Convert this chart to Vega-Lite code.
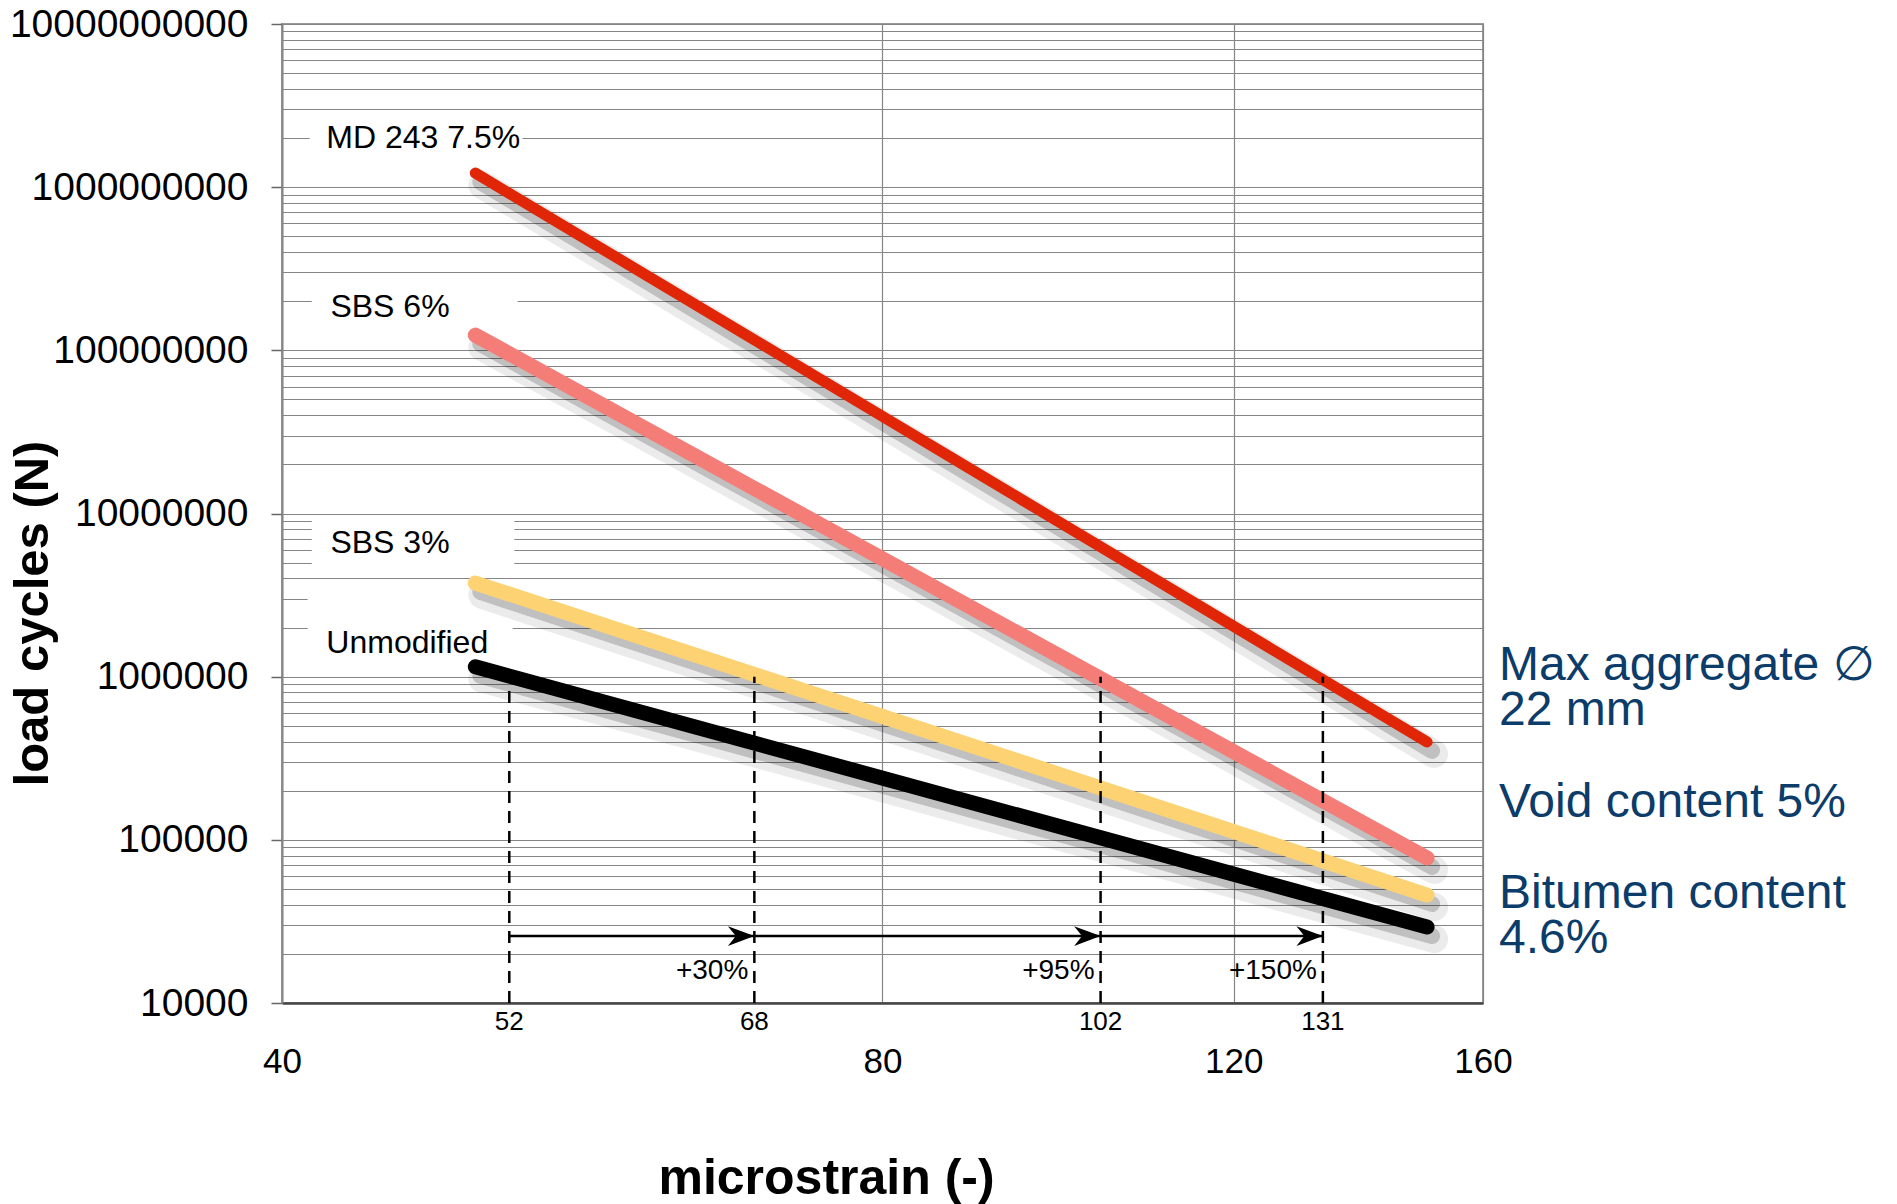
{
  "$schema": "https://vega.github.io/schema/vega-lite/v6.json",
  "width": 1201,
  "height": 979,
  "autosize": "none",
  "padding": {"left": 282, "top": 24, "right": 414, "bottom": 201},
  "background": "white",
  "config": {
    "font": "Liberation Sans",
    "view": {"stroke": "#999999", "strokeWidth": 2},
    "axis": {"labelFont": "Liberation Sans", "titleFont": "Liberation Sans", "labelColor": "#000000", "titleColor": "#000000"}
  },
  "datasets": {
    "curves": [
      {"s": "MD 243 7.5%", "x": 50, "y": 1220000000},
      {"s": "MD 243 7.5%", "x": 150, "y": 398000},
      {"s": "SBS 6%", "x": 50, "y": 124000000},
      {"s": "SBS 6%", "x": 150, "y": 77400},
      {"s": "SBS 3%", "x": 50, "y": 3750000},
      {"s": "SBS 3%", "x": 150, "y": 45900},
      {"s": "Unmodified", "x": 50, "y": 1150000},
      {"s": "Unmodified", "x": 150, "y": 29200}
    ],
    "boxes": [
      {"x": 41.3, "xe": 52.8, "y": 1550000000, "ye": 2580000000},
      {"x": 41.4, "xe": 52.5, "y": 143000000, "ye": 241000000},
      {"x": 41.4, "xe": 52.3, "y": 4830000, "ye": 9520000},
      {"x": 41.2, "xe": 52.2, "y": 1250000, "ye": 3490000}
    ],
    "names": [
      {"x": 42.1, "y": 2000000000, "t": "MD 243 7.5%"},
      {"x": 42.3, "y": 184000000, "t": "SBS 6%"},
      {"x": 42.3, "y": 6550000, "t": "SBS 3%"},
      {"x": 42.1, "y": 1600000, "t": "Unmodified"}
    ],
    "strains": [
      {"x": 52.0, "y": 10000, "ye": 1000000, "t": "52"},
      {"x": 69.0, "y": 10000, "ye": 1000000, "t": "68"},
      {"x": 102.9, "y": 10000, "ye": 1000000, "t": "102"},
      {"x": 133.0, "y": 10000, "ye": 1000000, "t": "131"}
    ],
    "arrow": [
      {"x": 52.0, "xe": 133.0, "y": 25700}
    ],
    "heads": [
      {"x": 69.0, "y": 25700},
      {"x": 102.9, "y": 25700},
      {"x": 133.0, "y": 25700}
    ],
    "gains": [
      {"x": 69.0, "y": 15700, "t": "+30%"},
      {"x": 102.9, "y": 15700, "t": "+95%"},
      {"x": 133.0, "y": 15700, "t": "+150%"}
    ],
    "notes": [
      {"x": 160, "y": 954000, "t": "Max aggregate ∅\n22 mm"},
      {"x": 160, "y": 138000, "t": "Void content 5%"},
      {"x": 160, "y": 38200, "t": "Bitumen content\n4.6%"}
    ]
  },
  "encoding": {
    "x": {
      "field": "x",
      "type": "quantitative",
      "scale": {"type": "log", "domain": [40, 160], "nice": false, "zero": false},
      "axis": {
        "values": [40, 80, 120, 160],
        "format": "d",
        "labelFontSize": 35,
        "labelPadding": 41,
        "labelOverlap": false,
        "labelFlush": false,
        "labelBound": false,
        "ticks": false,
        "grid": true,
        "gridColor": "#858585",
        "gridWidth": 1.2,
        "domainColor": "#444444",
        "domainWidth": 2.5,
        "title": "microstrain (-)",
        "titleFontSize": 50,
        "titleFontWeight": "bold",
        "titleX": 544,
        "titleY": 175,
        "titleAlign": "center",
        "titleBaseline": "middle"
      }
    },
    "y": {
      "field": "y",
      "type": "quantitative",
      "scale": {"type": "log", "domain": [10000, 10000000000], "nice": false, "zero": false},
      "axis": {
        "values": [10000, 20000, 30000, 40000, 50000, 60000, 70000, 80000, 90000,
                   100000, 200000, 300000, 400000, 500000, 600000, 700000, 800000, 900000,
                   1000000, 2000000, 3000000, 4000000, 5000000, 6000000, 7000000, 8000000, 9000000,
                   10000000, 20000000, 30000000, 40000000, 50000000, 60000000, 70000000, 80000000, 90000000,
                   100000000, 200000000, 300000000, 400000000, 500000000, 600000000, 700000000, 800000000, 900000000,
                   1000000000, 2000000000, 3000000000, 4000000000, 5000000000, 6000000000, 7000000000, 8000000000, 9000000000,
                   10000000000],
        "labelExpr": "indexof([10000,100000,1000000,10000000,100000000,1000000000,10000000000], datum.value) >= 0 ? format(datum.value, 'd') : ''",
        "labelFontSize": 39,
        "labelPadding": 23,
        "labelLimit": 0,
        "labelOverlap": false,
        "labelFlush": false,
        "labelBound": false,
        "tickSize": 11,
        "tickColor": "#666666",
        "tickWidth": 1.5,
        "tickOpacity": {"condition": {"test": "indexof([10000,100000,1000000,10000000,100000000,1000000000,10000000000], datum.value) >= 0", "value": 1}, "value": 0},
        "grid": true,
        "gridColor": "#858585",
        "gridWidth": 1.2,
        "domainColor": "#888888",
        "domainWidth": 2,
        "title": "load cycles (N)",
        "titleFontSize": 49,
        "titleFontWeight": "bold",
        "titleAngle": 270,
        "titleX": -250,
        "titleY": 589,
        "titleAlign": "center",
        "titleBaseline": "middle"
      }
    }
  },
  "layer": [
    {
      "data": {"name": "boxes"},
      "mark": {"type": "rect", "color": "#ffffff", "opacity": 1},
      "encoding": {
        "x2": {"field": "xe"},
        "y2": {"field": "ye"}
      }
    },
    {
      "data": {"name": "curves"},
      "mark": {"type": "line", "color": "#000000", "opacity": 0.08, "strokeWidth": 28, "strokeCap": "round", "xOffset": 7, "yOffset": 12},
      "encoding": {"detail": {"field": "s", "type": "nominal"}}
    },
    {
      "data": {"name": "curves"},
      "mark": {"type": "line", "color": "#000000", "opacity": 0.18, "strokeWidth": 16, "strokeCap": "round", "xOffset": 5, "yOffset": 9},
      "encoding": {"detail": {"field": "s", "type": "nominal"}}
    },
    {
      "data": {"name": "curves"},
      "transform": [{"filter": "datum.s != 'MD 243 7.5%'"}],
      "mark": {"type": "line", "strokeWidth": 15, "strokeCap": "round"},
      "encoding": {
        "color": {"field": "s", "type": "nominal", "scale": {"domain": ["MD 243 7.5%", "SBS 6%", "SBS 3%", "Unmodified"], "range": ["#e02606", "#f47d78", "#fcd272", "#000000"]}, "legend": null}
      }
    },
    {
      "data": {"name": "curves"},
      "transform": [{"filter": "datum.s == 'MD 243 7.5%'"}],
      "mark": {"type": "line", "strokeWidth": 11, "strokeCap": "round"},
      "encoding": {
        "color": {"field": "s", "type": "nominal", "scale": {"domain": ["MD 243 7.5%", "SBS 6%", "SBS 3%", "Unmodified"], "range": ["#e02606", "#f47d78", "#fcd272", "#000000"]}, "legend": null}
      }
    },
    {
      "data": {"name": "strains"},
      "mark": {"type": "rule", "color": "#000000", "strokeWidth": 2.5, "strokeDash": [12, 8]},
      "encoding": {"y2": {"field": "ye"}}
    },
    {
      "data": {"name": "arrow"},
      "mark": {"type": "rule", "color": "#000000", "strokeWidth": 2.5},
      "encoding": {"x2": {"field": "xe"}}
    },
    {
      "data": {"name": "heads"},
      "mark": {"type": "point", "shape": "M0,0 L-2,-0.75 L-1.4,0 L-2,0.75 Z", "size": 700, "filled": true, "color": "#000000", "opacity": 1, "strokeWidth": 0},
      "encoding": {}
    },
    {
      "data": {"name": "names"},
      "mark": {"type": "text", "align": "left", "baseline": "middle", "fontSize": 32, "color": "#000000"},
      "encoding": {"text": {"field": "t", "type": "nominal"}}
    },
    {
      "data": {"name": "strains"},
      "mark": {"type": "text", "align": "center", "baseline": "top", "dy": 6, "fontSize": 26, "color": "#000000"},
      "encoding": {"text": {"field": "t", "type": "nominal"}}
    },
    {
      "data": {"name": "gains"},
      "mark": {"type": "text", "align": "right", "baseline": "middle", "dx": -6, "fontSize": 28, "color": "#000000"},
      "encoding": {"text": {"field": "t", "type": "nominal"}}
    },
    {
      "data": {"name": "notes"},
      "mark": {"type": "text", "align": "left", "baseline": "alphabetic", "dx": 16, "fontSize": 48, "lineHeight": 45, "lineBreak": "\n", "color": "#0b3c6a"},
      "encoding": {"text": {"field": "t", "type": "nominal"}}
    }
  ]
}
